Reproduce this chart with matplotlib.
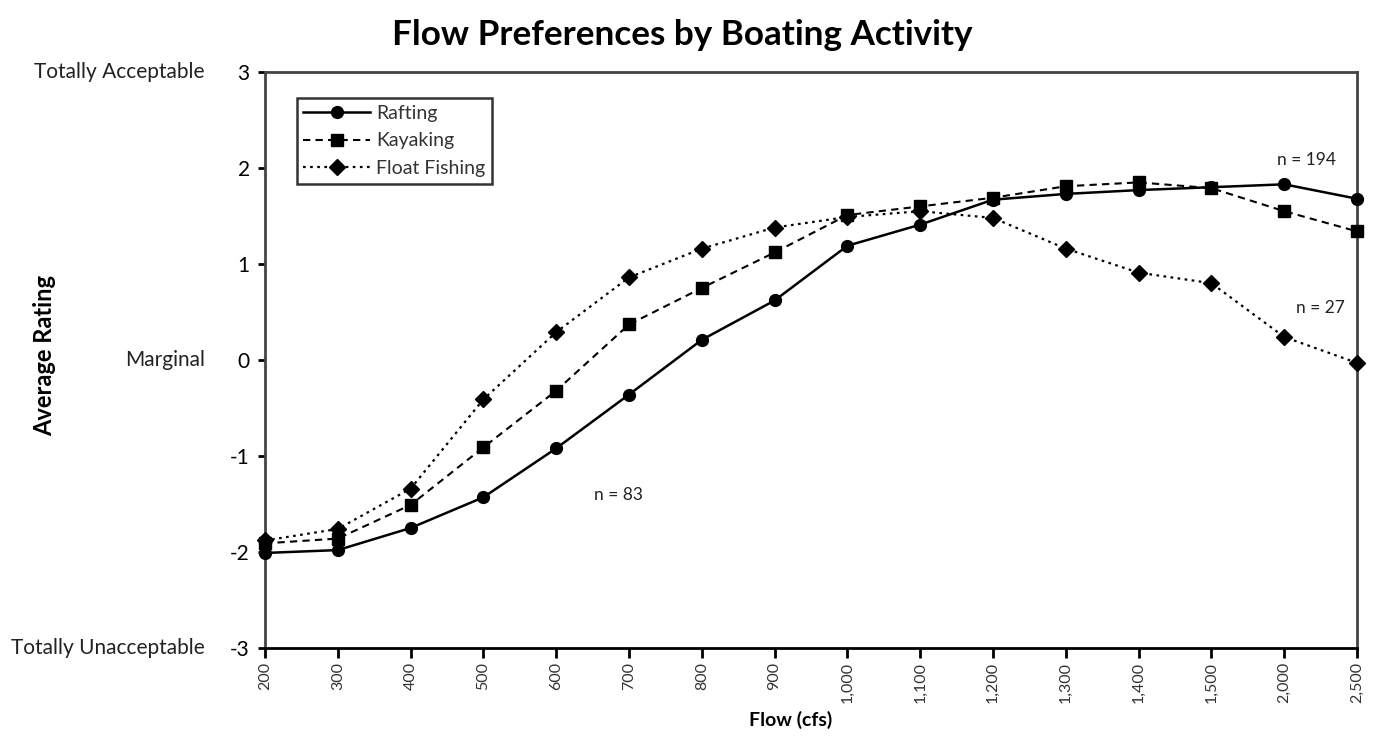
import matplotlib
matplotlib.use("Agg")
import matplotlib.pyplot as plt

flows = ["200", "300", "400", "500", "600", "700", "800", "900", "1,000",
         "1,100", "1,200", "1,300", "1,400", "1,500", "2,000", "2,500"]
rafting = [-2.01, -1.98, -1.75, -1.43, -0.92, -0.36, 0.21, 0.62, 1.19,
           1.41, 1.67, 1.73, 1.77, 1.80, 1.83, 1.68]
kayaking = [-1.91, -1.86, -1.51, -0.91, -0.32, 0.37, 0.75, 1.12, 1.51,
            1.60, 1.69, 1.81, 1.85, 1.79, 1.55, 1.34]
float_fishing = [-1.88, -1.76, -1.34, -0.41, 0.29, 0.86, 1.16, 1.38, 1.49,
                 1.55, 1.48, 1.16, 0.91, 0.80, 0.24, -0.03]
y_ticks = [-3, -2, -1, 0, 1, 2, 3]
y_side_labels = {3: "Totally Acceptable", 0: "Marginal", -3: "Totally Unacceptable"}
annotations = [("n = 194", 14.3, 2.08), ("n = 27", 14.5, 0.54), ("n = 83", 4.85, -1.41)]

plt.rcParams['font.family'] = ['Lato', 'DejaVu Sans']

fig = plt.figure(figsize=(13.76, 7.36), dpi=100)
ax = fig.add_axes([265/1376, 1-648/736, (1357-265)/1376, (648-72)/736])

x = list(range(len(flows)))
ax.plot(x, rafting, color='black', linestyle='-', linewidth=1.8, marker='o',
        markersize=8.5, label='Rafting', clip_on=False, zorder=3)
ax.plot(x, kayaking, color='black', linestyle=(0, (3.5, 2.5)), linewidth=1.5, marker='s',
        markersize=8, label='Kayaking', clip_on=False, zorder=3)
ax.plot(x, float_fishing, color='black', linestyle=(0, (1.2, 2)), linewidth=1.6, marker='D',
        markersize=8, label='Float Fishing', clip_on=False, zorder=3)

ax.set_xlim(0, len(flows) - 1)
ax.set_ylim(-3, 3)
ax.set_xticks(x)
ax.set_xticklabels(flows, rotation=90, fontsize=11.5, color='#333333')
ax.set_yticks(y_ticks)
ax.set_yticklabels([str(v) for v in y_ticks], fontsize=15)
ax.tick_params(axis='x', direction='out', length=7, width=2, pad=3)
ax.tick_params(axis='y', direction='out', length=5, width=2, pad=6)

for s in ax.spines.values():
    s.set_linewidth(2)
    s.set_color('#444444')
ax.spines['bottom'].set_color('black')

for v, txt in y_side_labels.items():
    ax.text(-0.055, v, txt, transform=ax.get_yaxis_transform(), ha='right', va='center',
            fontsize=15, color='#222222')

for txt, xx, yy in annotations:
    ax.text(xx, yy, txt, ha='center', va='center', fontsize=12.5, color='#222222')

leg = ax.legend(loc='upper left', bbox_to_anchor=(0.029, 0.955), fontsize=14,
                frameon=True, fancybox=False, edgecolor='black', handlelength=3.4,
                borderpad=0.35, labelspacing=0.55, handletextpad=0.35, borderaxespad=0)
leg.get_frame().set_linewidth(1.8)
for t in leg.get_texts():
    t.set_color('#333333')

fig.text(682/1376, 1 - 35/736, "Flow Preferences by Boating Activity",
         ha='center', va='center', fontsize=25.3, fontweight='bold')
fig.text(791/1376, 1 - 720/736, "Flow (cfs)", ha='center', va='center', fontsize=14,
         fontweight='bold')
fig.text(45/1376, 1 - 355/736, "Average Rating", ha='center', va='center', fontsize=17,
         fontweight='bold', rotation=90)

fig.savefig("out.png", dpi=100)
